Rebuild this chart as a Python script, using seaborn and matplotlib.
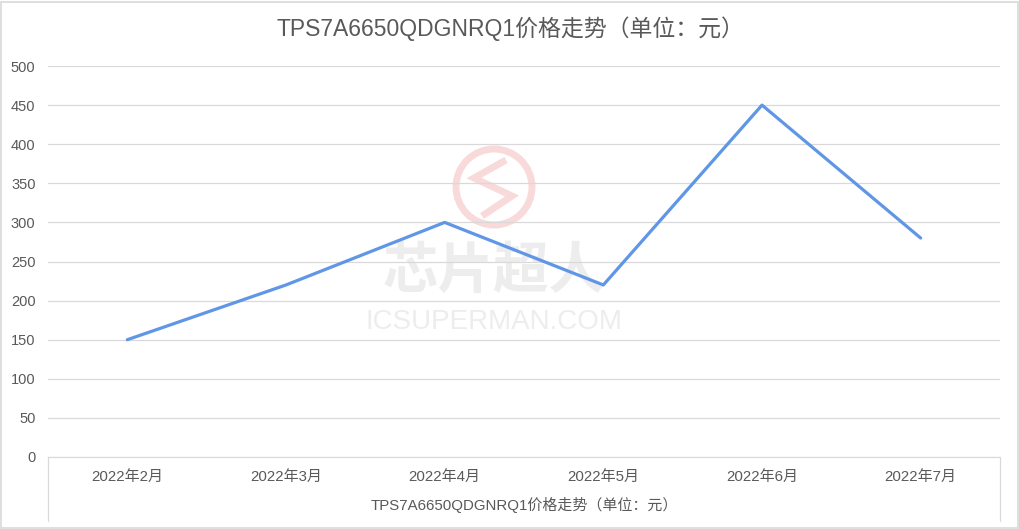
import matplotlib
matplotlib.use("Agg")
import matplotlib.pyplot as plt
import seaborn as sns
import pandas as pd
from matplotlib.patches import Circle, Rectangle

# data
months = ["2022年2月", "2022年3月", "2022年4月", "2022年5月", "2022年6月", "2022年7月"]
prices = [150, 220, 300, 220, 450, 280]
yticks = [0, 50, 100, 150, 200, 250, 300, 350, 400, 450, 500]
title = "TPS7A6650QDGNRQ1价格走势（单位：元）"

sns.set_style("white")
plt.rcParams['font.family'] = ['Liberation Sans', 'Noto Sans CJK SC', 'DejaVu Sans']

df = pd.DataFrame({"month": months, "price": prices})
df["pos"] = range(len(months))

fig = plt.figure(figsize=(10.2, 5.29), dpi=100)
ax = fig.add_axes([48/1020, 72/529, 952/1020, 391/529])

grid_c = "#D9D9D9"
text_c = "#595959"

# watermark
ax_w = fig.add_axes([0, 0, 1, 1], zorder=0)
ax_w.set_xlim(0, 1020)
ax_w.set_ylim(529, 0)
ax_w.axis("off")
wm_red = "#F9DADA"
ax_w.add_patch(Circle((494, 187), 38, fill=False, ec=wm_red, lw=5))
ax_w.plot([506, 474, 512, 482], [160, 178, 196, 216], color=wm_red, lw=5,
          solid_capstyle="butt", solid_joinstyle="miter")
ax_w.text(494, 272, "芯片超人", ha="center", va="center", fontsize=40, color="#EDEDED",
          fontweight="bold", style="italic", family=["Noto Sans CJK SC"])
ax_w.text(494, 322, "ICSUPERMAN.COM", ha="center", va="center", fontsize=20, color="#EDEDED")
ax.set_zorder(1)
ax.patch.set_alpha(0)

sns.lineplot(data=df, x="pos", y="price", ax=ax, color="#6096E6", linewidth=2.3)

ax.set_xlim(-0.5, len(months) - 0.5)
ax.set_ylim(0, 500)
ax.set_yticks(yticks)
ax.set_yticklabels([str(v) for v in yticks], fontsize=10.5, color=text_c)
ax.set_xticks(df["pos"])
ax.set_xticklabels(months, fontsize=10.8, color=text_c)
ax.tick_params(axis="y", length=0, pad=9)
ax.tick_params(axis="x", length=0, pad=9)
ax.grid(axis="y", color=grid_c, linewidth=0.9)
for s in ["left", "right", "top"]:
    ax.spines[s].set_visible(False)
ax.spines["bottom"].set_color(grid_c)
ax.set_ylabel("")
ax.set_xlabel(title, fontsize=10.8, color=text_c, labelpad=10)

# box lines below the axis
for xa in (0, 1):
    ax.plot([xa, xa], [0, -0.163], transform=ax.transAxes, clip_on=False, color=grid_c, lw=0.9)

fig.text(0.5, 1 - 29/529, title, ha="center", va="center", fontsize=16.5, color=text_c)

# outer border
fig.patches.append(Rectangle((0.001, 0.002), 0.997, 0.995, transform=fig.transFigure,
                             fill=False, ec=grid_c, lw=1.2))

fig.savefig("out.png", dpi=100)
